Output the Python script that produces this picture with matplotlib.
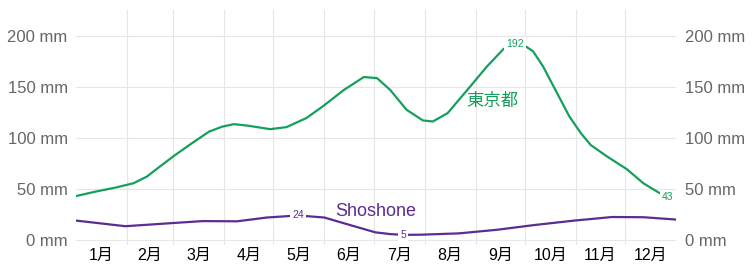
import matplotlib.pyplot as plt
import numpy as np

plt.rcParams['font.family'] = ['Liberation Sans', 'Noto Sans CJK JP']

# day of year and precipitation (mm)
tokyo_days = [0, 12, 24, 35, 43, 51, 59, 69, 81, 89, 96, 105, 118, 128, 140, 150,
              163, 175, 183, 191, 201, 211, 217, 226, 238, 250, 260, 267, 274, 278,
              284, 292, 300, 307, 313, 323, 335, 345, 355, 365]
tokyo_mm = [43, 47.4, 51.3, 55.6, 62, 71.9, 81.7, 93.1, 106.2, 111, 113.4, 111.8, 108.5,
            110.5, 119.3, 130.7, 147, 159.5, 158.5, 147, 127.5, 117, 116, 124.2, 147,
            170, 187, 192, 189, 184.6, 170, 145.5, 121, 104.6, 93, 81.7, 69.3, 55.6,
            45.8, 43]

shoshone_days = [0, 30, 58, 77, 98, 116, 135, 151, 168, 182, 191, 199, 210,
                 233, 256, 279, 303, 326, 345, 365]
shoshone_mm = [19, 13.5, 16.5, 18.5, 18.3, 22, 24, 22, 14, 7.5, 5.8, 5, 5.2,
               6.5, 10, 14.7, 19, 22.5, 22.3, 20]

month_starts = [0, 31, 59, 90, 120, 151, 181, 212, 243, 273, 304, 334, 365]
month_labels = ['1月', '2月', '3月', '4月', '5月', '6月', '7月', '8月', '9月', '10月', '11月', '12月']
y_ticks = [0, 50, 100, 150, 200]

green = '#14a05c'
purple = '#5b2c92'

fig = plt.figure(figsize=(7.53, 2.67), dpi=100)
ax = fig.add_axes([0.101, 0.082, 0.797, 0.88])

ax.plot(tokyo_days, tokyo_mm, color=green, lw=1.6, solid_joinstyle='round')
ax.plot(shoshone_days, shoshone_mm, color=purple, lw=1.6, solid_joinstyle='round')

# value labels sitting on the lines
lab = dict(ha='center', va='center', fontsize=7.5,
           bbox=dict(facecolor='white', edgecolor='none', pad=1.5))
i = int(np.argmax(tokyo_mm))
ax.text(tokyo_days[i], tokyo_mm[i], str(tokyo_mm[i]), color=green, **lab)
ax.text(360, tokyo_mm[-1] - 1, str(tokyo_mm[-1]), color=green, **lab)
j = int(np.argmax(shoshone_mm))
ax.text(shoshone_days[j], shoshone_mm[j], str(int(shoshone_mm[j])), color=purple, **lab)
k = int(np.argmin(shoshone_mm))
ax.text(shoshone_days[k], shoshone_mm[k], str(int(shoshone_mm[k])), color=purple, **lab)

ax.text(253, 136, '東京都', color=green, fontsize=12.5, ha='center', va='center')
ax.text(182, 28, 'Shoshone', color=purple, fontsize=13, ha='center', va='center')

ax.set_xlim(0, 365)
ax.set_ylim(-5, 225)

ax.set_yticks(y_ticks)
ax.set_yticklabels([f'{v} mm' for v in y_ticks])
ax.set_xticks(month_starts[1:-1])
ax.set_xticklabels([])
mids = [(a + b) / 2 for a, b in zip(month_starts[:-1], month_starts[1:])]
ax.set_xticks(mids, minor=True)
ax.set_xticklabels(month_labels, minor=True, fontsize=11.5)

ax.tick_params(axis='x', which='both', length=0, pad=2)
ax.tick_params(axis='y', length=0, labelsize=12, labelcolor='#666666',
               left=True, right=True, labelleft=True, labelright=True, pad=6)

ax.grid(True, which='major', color='#e6e6e6', lw=0.8)
for s in ax.spines.values():
    s.set_visible(False)

fig.savefig('out.png', dpi=100)
